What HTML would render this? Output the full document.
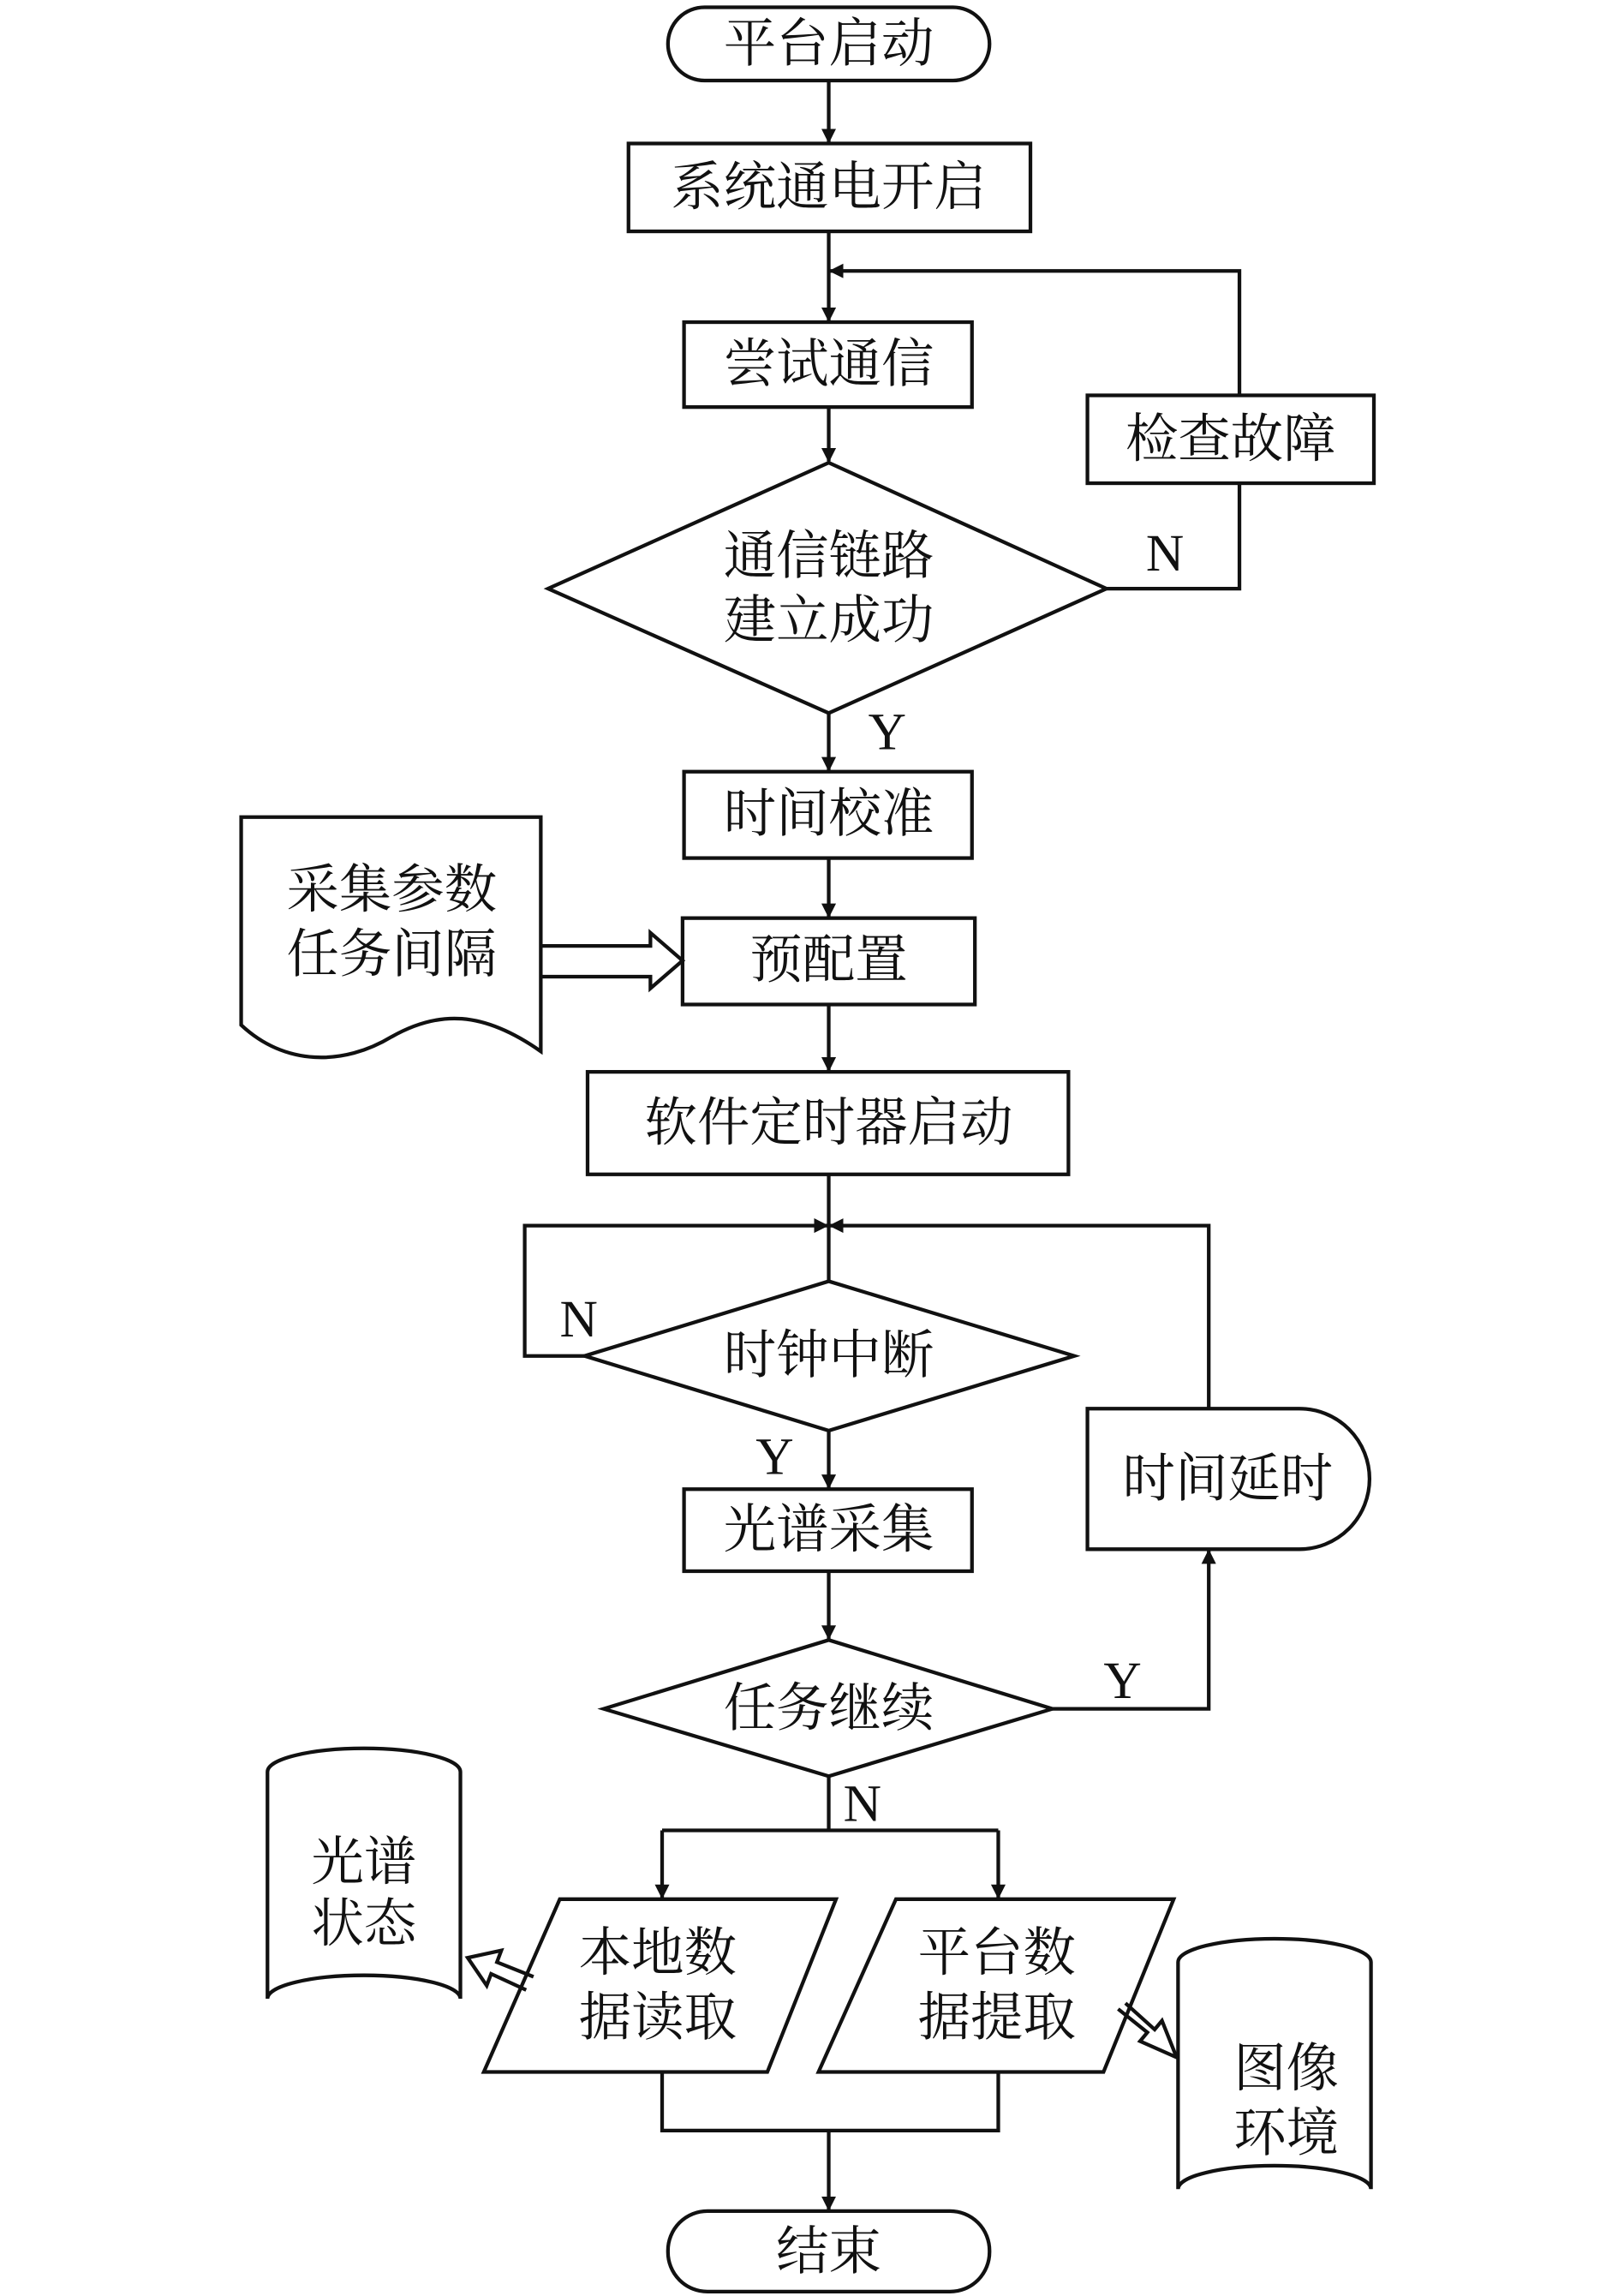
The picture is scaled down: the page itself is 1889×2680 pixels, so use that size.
<!DOCTYPE html>
<html><head><meta charset="utf-8"><style>
html,body{margin:0;padding:0;background:#fff}
svg{display:block}
text{font-family:"Liberation Serif","Noto Serif CJK SC","Noto Sans CJK SC",serif;font-size:36px;fill:#111;text-anchor:middle;dominant-baseline:central}
</style></head><body>
<svg width="1889" height="2680" viewBox="0 0 1107 1568" preserveAspectRatio="none" xmlns="http://www.w3.org/2000/svg">
<defs><marker id="a" markerWidth="10" markerHeight="10" refX="9" refY="5" orient="auto" markerUnits="userSpaceOnUse"><path d="M0,0 L10,5 L0,10 z" fill="#111"/></marker>
<marker id="b" markerWidth="14" markerHeight="18" refX="13" refY="9" orient="auto" markerUnits="userSpaceOnUse"><path d="M0,0 L14,9 L0,18 z" fill="#111"/></marker></defs>
<g fill="none" stroke="#111" stroke-width="2.5">
<rect x="457" y="5" width="220" height="50" rx="25"/>
<rect x="430" y="98" width="275" height="60"/>
<rect x="468" y="220" width="197" height="58"/>
<polygon points="375,402 567,316 757,402 567,487"/>
<rect x="744" y="270" width="196" height="60"/>
<rect x="468" y="527" width="197" height="59"/>
<rect x="467" y="627" width="200" height="59"/>
<path d="M165,558 L370,558 L370,718 C330,690 300,690 268,708 C235,728 195,728 165,700 Z"/>
<rect x="402" y="732" width="329" height="70"/>
<polygon points="400,926 567,875 735,926 567,977"/>
<path d="M744,962 L889,962 A48,48 0 0 1 889,1058 L744,1058 Z"/>
<rect x="468" y="1017" width="197" height="56"/>
<polygon points="413,1167 567,1120 720,1167 567,1213"/>
<polygon points="383,1297 572,1297 525,1415 331,1415"/>
<polygon points="613,1297 803,1297 755,1415 560,1415"/>
<rect x="457" y="1510" width="220" height="55" rx="27"/>
<path d="M183,1210 A66,16 0 0 1 315,1210 L315,1365 A66,16 0 0 0 183,1365 Z"/>
<path d="M806,1340 A66,16 0 0 1 938,1340 L938,1495 A66,16 0 0 0 806,1495 Z"/>
<!-- connectors -->
<line x1="567" y1="55" x2="567" y2="97" marker-end="url(#a)"/>
<line x1="567" y1="158" x2="567" y2="219" marker-end="url(#a)"/>
<line x1="567" y1="278" x2="567" y2="315" marker-end="url(#a)"/>
<polyline points="757,402 848,402 848,330"/>
<polyline points="848,270 848,185 568,185" marker-end="url(#a)"/>
<line x1="567" y1="487" x2="567" y2="526" marker-end="url(#a)"/>
<line x1="567" y1="586" x2="567" y2="626" marker-end="url(#a)"/>
<line x1="567" y1="686" x2="567" y2="731" marker-end="url(#a)"/>
<line x1="567" y1="802" x2="567" y2="875"/>
<polyline points="400,926 359,926 359,837 566,837" marker-end="url(#a)"/>
<polyline points="827,962 827,837 568,837" marker-end="url(#a)"/>
<line x1="567" y1="977" x2="567" y2="1016" marker-end="url(#a)"/>
<line x1="567" y1="1073" x2="567" y2="1119" marker-end="url(#a)"/>
<polyline points="720,1167 827,1167 827,1059" marker-end="url(#a)"/>
<polyline points="567,1213 567,1250"/>
<polyline points="453,1250 683,1250"/>
<line x1="453" y1="1250" x2="453" y2="1296" marker-end="url(#a)"/>
<line x1="683" y1="1250" x2="683" y2="1296" marker-end="url(#a)"/>
<polyline points="453,1415 453,1455 683,1455 683,1415"/>
<line x1="567" y1="1455" x2="567" y2="1509" marker-end="url(#a)"/>
<!-- hollow arrows -->
<path d="M370,646 L445,646 L445,637 L467,656 L445,675 L445,667 L370,667"/>
<path d="M365,1350 L340,1340 L343,1332 L320,1337 L333,1356 L336,1348 L360,1359"/>
<path d="M765,1372 L785,1388 L780,1394 L805,1405 L795,1380 L790,1386 L770,1368"/>
</g>
<text x="567" y="30">平台启动</text>
<text x="567" y="128">系统通电开启</text>
<text x="567" y="249">尝试通信</text>
<text x="567" y="380">通信链路</text>
<text x="567" y="424">建立成功</text>
<text x="842" y="300">检查故障</text>
<text x="797" y="378">N</text>
<text x="607" y="500">Y</text>
<text x="567" y="556">时间校准</text>
<text x="567" y="656">预配置</text>
<text x="268" y="608">采集参数</text>
<text x="268" y="652">任务间隔</text>
<text x="567" y="767">软件定时器启动</text>
<text x="567" y="926">时钟中断</text>
<text x="396" y="901">N</text>
<text x="530" y="995">Y</text>
<text x="840" y="1010">时间延时</text>
<text x="567" y="1045">光谱采集</text>
<text x="567" y="1167">任务继续</text>
<text x="768" y="1148">Y</text>
<text x="590" y="1232">N</text>
<text x="450" y="1334">本地数</text>
<text x="450" y="1378">据读取</text>
<text x="682" y="1334">平台数</text>
<text x="682" y="1378">据提取</text>
<text x="249" y="1272">光谱</text>
<text x="249" y="1314">状态</text>
<text x="880" y="1413">图像</text>
<text x="880" y="1457">环境</text>
<text x="567" y="1538">结束</text>
</svg>
</body></html>
